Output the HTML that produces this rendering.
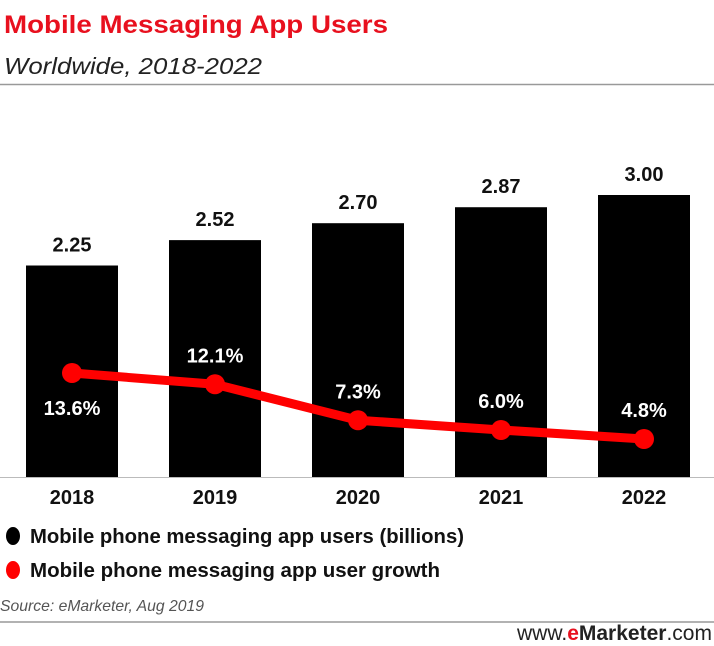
<!DOCTYPE html>
<html><head><meta charset="utf-8"><style>
body{margin:0;background:#fff;width:714px;height:641px;overflow:hidden;font-family:"Liberation Sans",sans-serif}
</style></head><body>
<svg width="714" height="641" xmlns="http://www.w3.org/2000/svg">
<text x="4" y="33" font-weight="bold" font-size="25" fill="#e8101e" textLength="384" lengthAdjust="spacingAndGlyphs">Mobile Messaging App Users</text>
<text x="4" y="74" font-style="italic" font-size="23" fill="#222" textLength="258" lengthAdjust="spacingAndGlyphs">Worldwide, 2018-2022</text>
<line x1="0" y1="84.5" x2="714" y2="84.5" stroke="#999" stroke-width="1.5"/>
<line x1="0" y1="477.5" x2="714" y2="477.5" stroke="#bbb" stroke-width="1"/>
<g id="bars"></g><g id="line"></g><g id="labels"></g>
<ellipse cx="13" cy="536" rx="7" ry="9" fill="#000"/>
<text x="30" y="543" font-weight="bold" font-size="20" fill="#111" textLength="434" lengthAdjust="spacingAndGlyphs">Mobile phone messaging app users (billions)</text>
<ellipse cx="13" cy="570" rx="7" ry="9" fill="#f00"/>
<text x="30" y="577" font-weight="bold" font-size="20" fill="#111" textLength="410" lengthAdjust="spacingAndGlyphs">Mobile phone messaging app user growth</text>
<text x="0" y="611" font-style="italic" font-size="16" fill="#555" textLength="204" lengthAdjust="spacingAndGlyphs">Source: eMarketer, Aug 2019</text>
<line x1="0" y1="622" x2="714" y2="622" stroke="#999" stroke-width="1.5"/>
<text x="517" y="640" font-size="21" fill="#222" textLength="195" lengthAdjust="spacingAndGlyphs">www.<tspan fill="#e8101e" font-weight="bold">e</tspan><tspan font-weight="bold">Marketer</tspan>.com</text>
</svg>
<script>
const years=["2018","2019","2020","2021","2022"];
const users=[2.25,2.52,2.70,2.87,3.00];
const userLabels=["2.25","2.52","2.70","2.87","3.00"];
const growth=[13.6,12.1,7.3,6.0,4.8];
const growthLabels=["13.6%","12.1%","7.3%","6.0%","4.8%"];
const NS="http://www.w3.org/2000/svg";
function xc(i){return 72+i*143;}
function yb(v){return 477-94*v;}
function yg(v){return 475-7.5*v;}
function mk(t,a,p){const e=document.createElementNS(NS,t);for(const k in a)e.setAttribute(k,a[k]);p.appendChild(e);return e;}
const B=document.getElementById('bars'),L=document.getElementById('line'),T=document.getElementById('labels');
users.forEach((v,i)=>{
 const r=mk('rect',{x:xc(i)-46,y:yb(v),width:92,height:477-yb(v),fill:'#000'},B);
 
 
 const t=mk('text',{x:xc(i),y:yb(v)-14,'text-anchor':'middle','font-weight':'bold','font-size':'20',fill:'#111'},T);
 t.textContent=userLabels[i];
 
 
 const y=mk('text',{x:xc(i),y:504,'text-anchor':'middle','font-weight':'bold','font-size':'20',fill:'#111'},T);
 y.textContent=years[i];
 
 
});
const pl=mk('polyline',{points:growth.map((v,i)=>xc(i)+','+yg(v)).join(' '),fill:'none',stroke:'#f00','stroke-width':'9','stroke-linejoin':'round'},L);


growth.forEach((v,i)=>{
 const c=mk('circle',{cx:xc(i),cy:yg(v),r:10,fill:'#f00'},L);
 
 
 const below=i===0;
 const t=mk('text',{x:xc(i),y:below?yg(v)+42:yg(v)-22,'text-anchor':'middle','font-weight':'bold','font-size':'20',fill:'#fff'},T);
 t.textContent=growthLabels[i];
 
 
});
</script>
</body></html>
